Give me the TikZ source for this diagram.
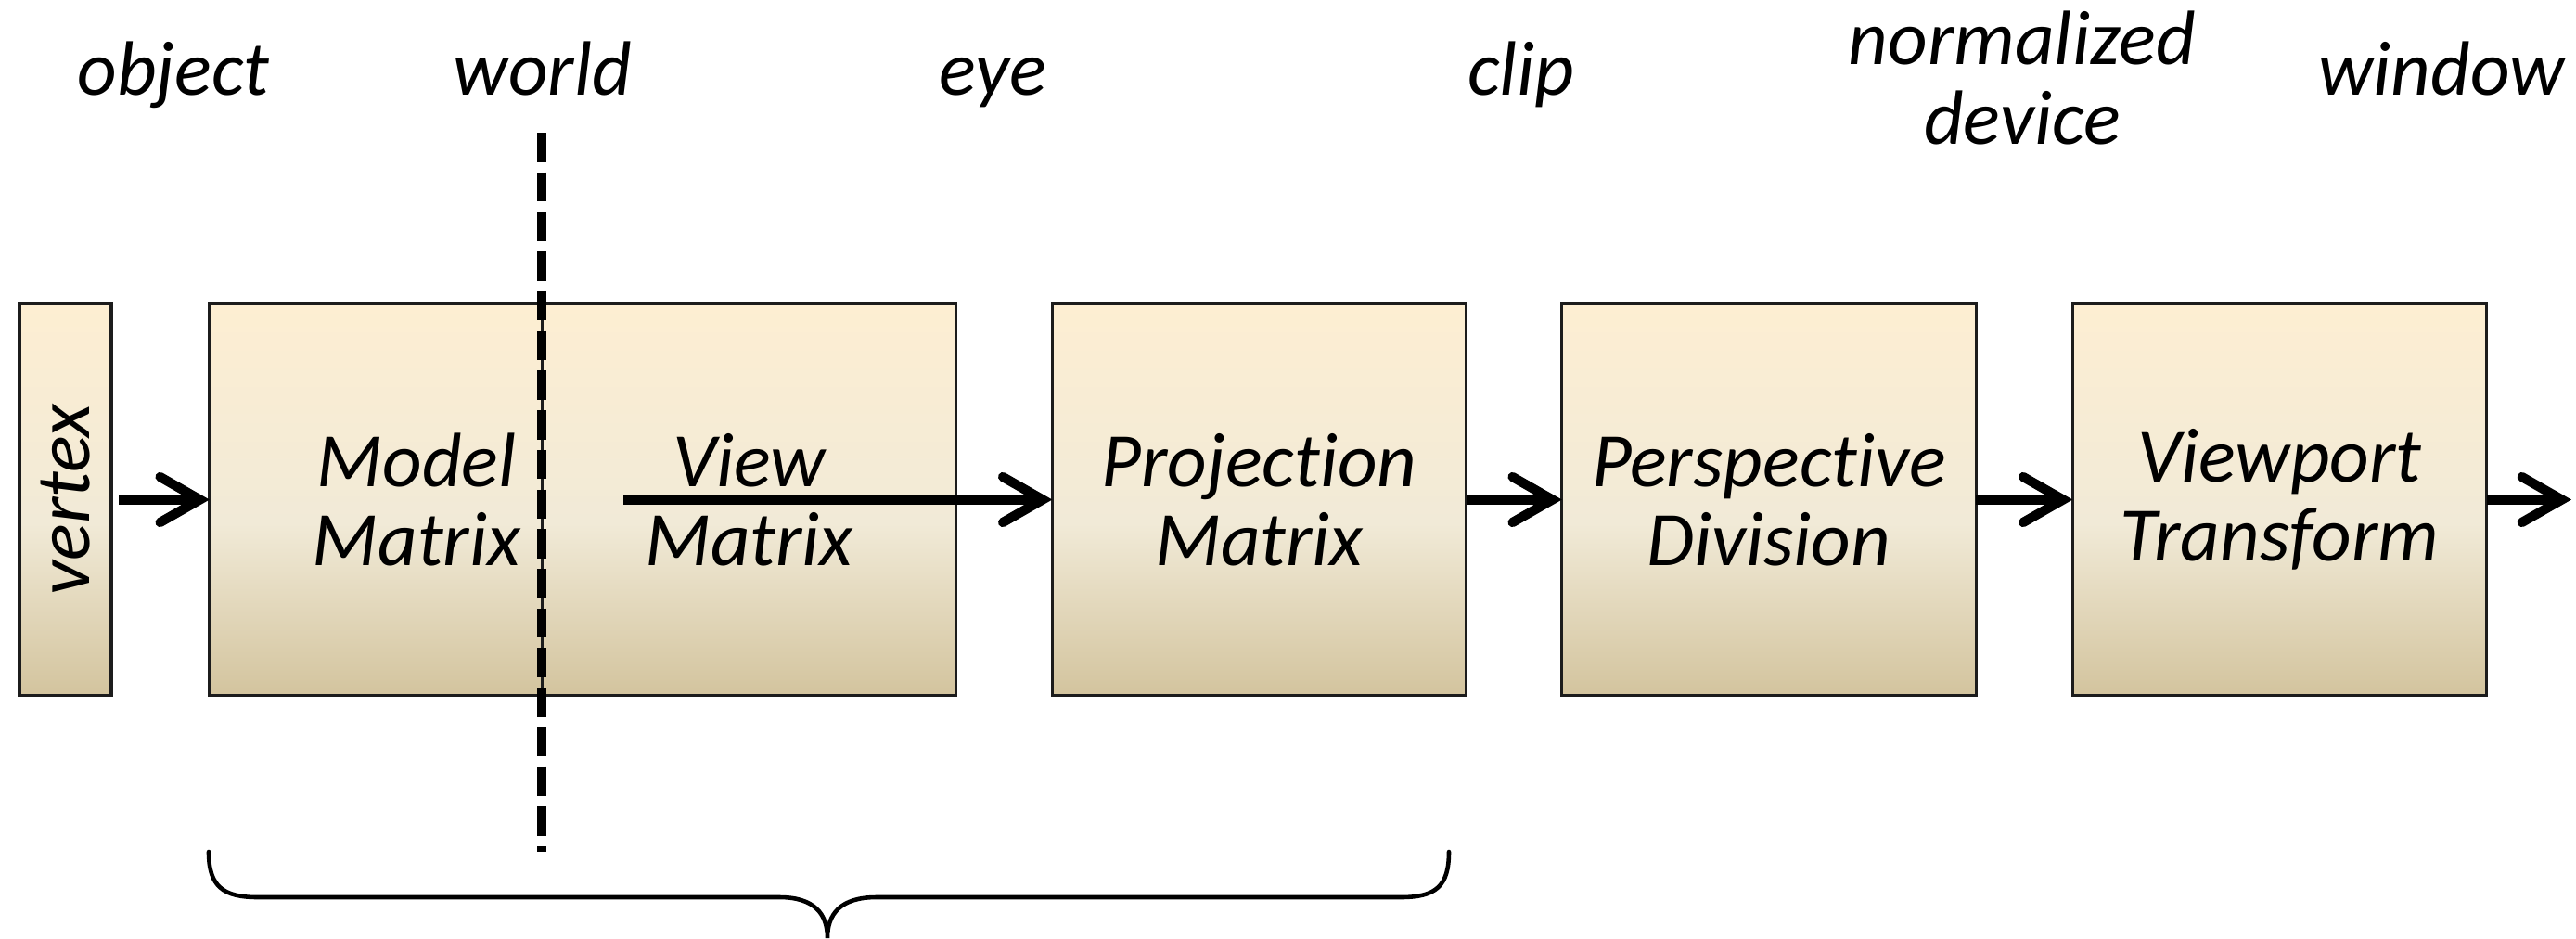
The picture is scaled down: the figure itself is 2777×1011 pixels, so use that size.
\documentclass[tikz,border=0pt]{standalone}
\usepackage{graphicx}
\usepackage{fontspec}
\setmainfont{Carlito}[Ligatures=NoCommon]
\usetikzlibrary{arrows.meta}

\definecolor{boxtop}{RGB}{253,238,210}
\definecolor{boxmid}{RGB}{241,234,215}
\definecolor{boxbot}{RGB}{211,196,158}
\definecolor{edge}{RGB}{28,28,28}

% cream-to-tan fill of the pipeline stages (lightest at the top)
\pgfdeclareverticalshading{stageshade}{100bp}{color(0bp)=(boxbot); color(25bp)=(boxbot); color(47bp)=(boxmid); color(75bp)=(boxtop); color(100bp)=(boxtop)}

\begin{document}
\begin{tikzpicture}[x=0.01cm, y=-0.01cm,
  every node/.style={font=\fontsize{23.6pt}{24.2pt}\selectfont\itshape},
  stage/.style={draw=edge, line width=0.9pt, shade, shading=stageshade,
    inner sep=0pt, outer sep=0pt, minimum width=4.46cm, minimum height=4.21cm, align=center},
  flow/.style={line width=2.9pt, line cap=butt,
    -{Straight Barb[length=4.3mm, width=4.9mm, line cap=round]}},
  space/.style={anchor=base},
  divider/.style={line width=2.6pt, dash pattern=on 0.315cm off 0.112cm},
  brace/.style={line width=1.3pt, line cap=round}
]
\useasboundingbox (0,0) rectangle (2777,1011);

% coordinate-space labels
\node[space] (lobject) at (187,102) {object};
\node[space] (lworld)  at (585,102) {world};
\node[space] (leye)    at (1070,102) {eye};
\node[space] (lclip)   at (1640,102) {clip};
\node[align=center] (lndc) at (2180,84) {normalized\\device};
\node[space] (lwindow) at (2632,102) {window};

% pipeline stages
\node[stage, minimum width=0.99cm] (vertex) at (70.5,538.5) {\rotatebox{90}{vertex}};
\node[stage] (model) at (449,538.5) {Model\\Matrix};
\node[stage] (view)  at (807.5,538.5) {View\\Matrix};
\node[stage] (proj)  at (1357.5,538.5) {Projection\\Matrix};
\node[stage] (persp) at (1907,538.5) {Perspective\\Division};
\node[stage] (vport) at (2457.5,538.5) {Viewport\\Transform};
\coordinate (out) at (2772,538.5);

% object/world boundary
\coordinate (dtop) at (584,143);
\coordinate (dbot) at (584,918);
\draw[divider] (dtop) -- (dbot);

% data flow
\draw[flow, shorten <=0.08cm] (vertex) -- (model);
\draw[flow] (model.east) -- (proj.west);
\draw[flow] (proj) -- (persp);
\draw[flow] (persp) -- (vport);
\draw[flow] (vport) -- (out);

% brace under the matrix stages
\draw[brace] (225,918) .. controls (225,955) and (240,967) .. (278,967)
  -- (840,967) .. controls (878,967) and (892,985) .. (892,1011)
  .. controls (892,985) and (906,967) .. (945,967)
  -- (1510,967) .. controls (1548,967) and (1562,955) .. (1562,918);
\end{tikzpicture}
\end{document}
